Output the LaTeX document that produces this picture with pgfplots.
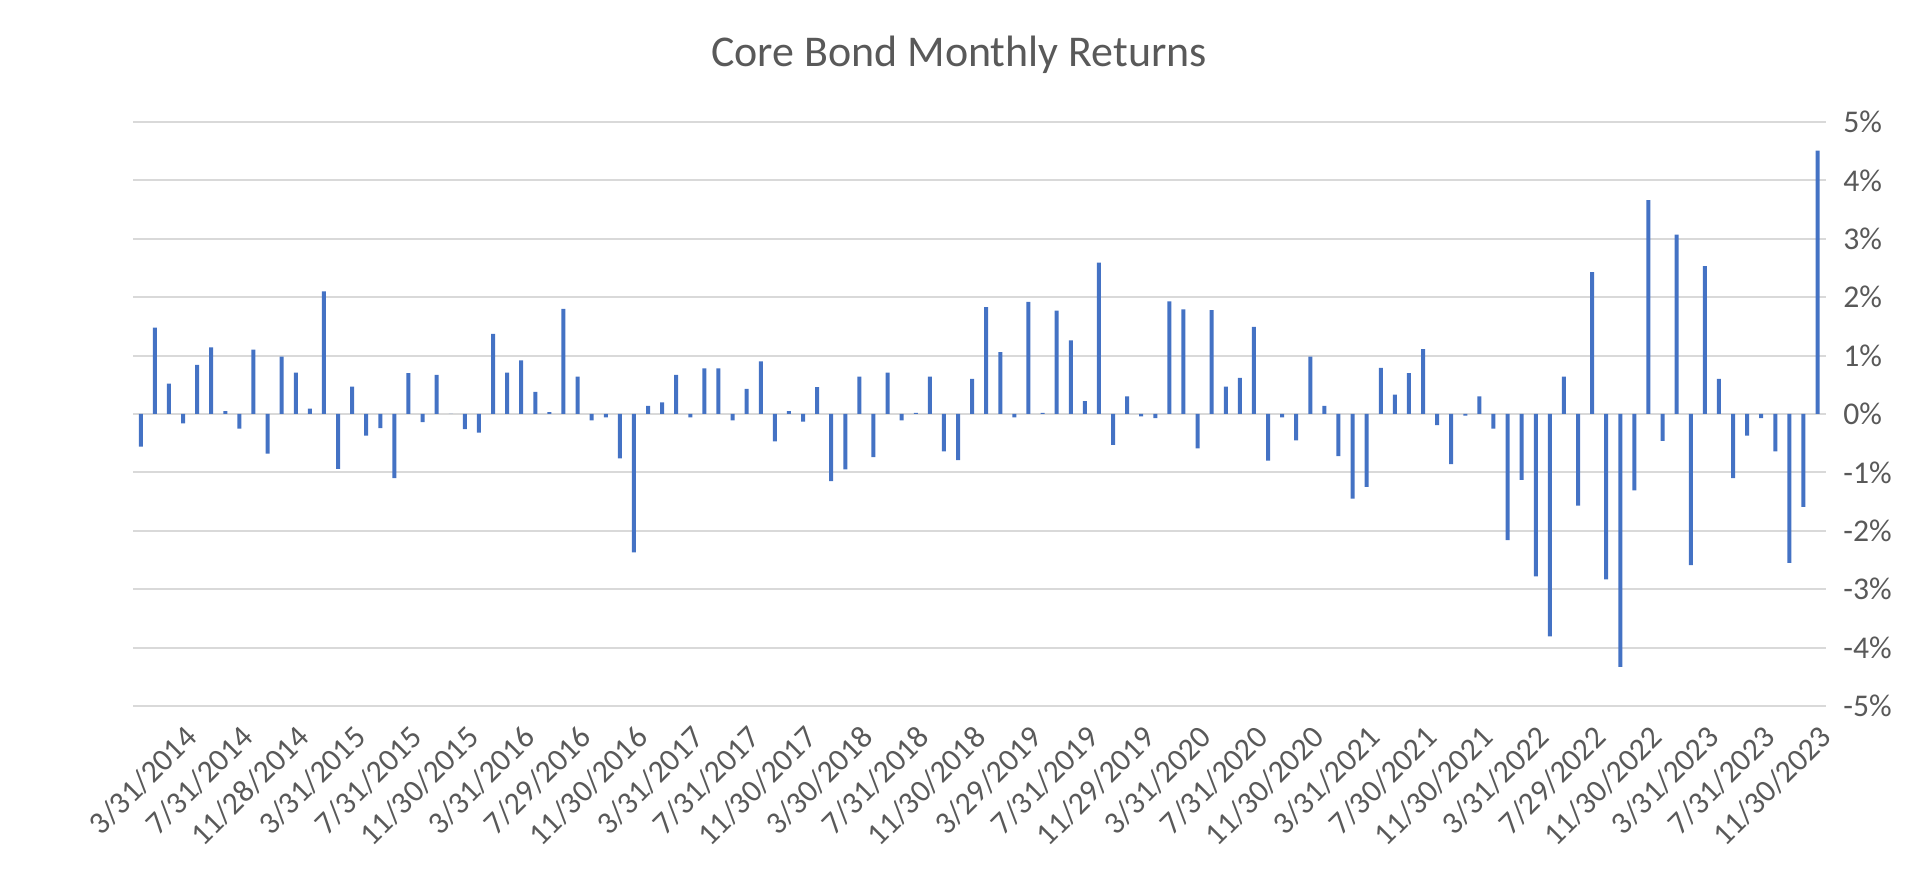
\documentclass[border=0pt]{standalone}
\usepackage{pgfplots}
\pgfplotsset{compat=1.18}
\usepackage{fontspec}
\setmainfont{Carlito}
\definecolor{barc}{HTML}{4472C4}
\definecolor{gridc}{HTML}{D9D9D9}
\definecolor{txt}{HTML}{595959}
\begin{document}
\begin{tikzpicture}[x=1cm,y=1cm]
\path[use as bounding box] (0,0) rectangle (19.2,8.72);
\node[text=txt,font=\fontsize{12.5}{14}\selectfont] at (9.59,8.17) {Core Bond Monthly Returns};
\begin{axis}[at={(1.33cm,1.66cm)},anchor=south west,
  scale only axis, width=16.93cm, height=5.84cm,
  xmin=-0.55, xmax=119.6, ymin=-5, ymax=5,
  axis line style={draw=none},
  ymajorgrids, grid style={gridc,line width=0.6pt},
  ytick={-5,-4,...,5},
  yticklabel pos=right,
  yticklabel={\pgfmathprintnumber{\tick}\%},
  yticklabel style={text=txt,font=\fontsize{9}{10}\selectfont,anchor=west,xshift=0.05cm},
  xtick={3,7,...,119},
  xticklabels={3/31/2014,7/31/2014,11/28/2014,3/31/2015,7/31/2015,11/30/2015,3/31/2016,7/29/2016,11/30/2016,3/31/2017,7/31/2017,11/30/2017,3/30/2018,7/31/2018,11/30/2018,3/29/2019,7/31/2019,11/29/2019,3/31/2020,7/31/2020,11/30/2020,3/31/2021,7/30/2021,11/30/2021,3/31/2022,7/29/2022,11/30/2022,3/31/2023,7/31/2023,11/30/2023},
  xticklabel style={text=txt,font=\fontsize{9}{10}\selectfont,rotate=45,anchor=north east,inner sep=1pt},
  xticklabel shift=0.12cm,
  x tick label as interval=false,
  major tick length=0pt,
  /pgf/number format/assume math mode=true,
  clip=false]
\addplot[ybar, bar width=0.4mm, fill=barc, draw=none] coordinates {
(0,-0.56) (1,1.48) (2,0.52) (3,-0.16) (4,0.84) (5,1.14) (6,0.05) (7,-0.25) (8,1.10) (9,-0.68)
(10,0.98) (11,0.71) (12,0.09) (13,2.10) (14,-0.94) (15,0.47) (16,-0.37) (17,-0.24) (18,-1.10) (19,0.70)
(20,-0.14) (21,0.67) (22,0.0) (23,-0.26) (24,-0.32) (25,1.37) (26,0.71) (27,0.92) (28,0.38) (29,0.03)
(30,1.80) (31,0.64) (32,-0.11) (33,-0.06) (34,-0.76) (35,-2.37) (36,0.14) (37,0.20) (38,0.67) (39,-0.06)
(40,0.78) (41,0.78) (42,-0.11) (43,0.43) (44,0.90) (45,-0.47) (46,0.05) (47,-0.13) (48,0.46) (49,-1.15)
(50,-0.95) (51,0.64) (52,-0.74) (53,0.71) (54,-0.11) (55,0.02) (56,0.64) (57,-0.64) (58,-0.79) (59,0.60)
(60,1.83) (61,1.06) (62,-0.06) (63,1.92) (64,0.02) (65,1.77) (66,1.26) (67,0.22) (68,2.59) (69,-0.53)
(70,0.30) (71,-0.04) (72,-0.07) (73,1.93) (74,1.79) (75,-0.59) (76,1.78) (77,0.47) (78,0.62) (79,1.49)
(80,-0.80) (81,-0.06) (82,-0.45) (83,0.98) (84,0.14) (85,-0.72) (86,-1.45) (87,-1.25) (88,0.79) (89,0.33)
(90,0.70) (91,1.11) (92,-0.19) (93,-0.86) (94,-0.03) (95,0.30) (96,-0.25) (97,-2.16) (98,-1.13) (99,-2.78)
(100,-3.81) (101,0.64) (102,-1.57) (103,2.43) (104,-2.83) (105,-4.33) (106,-1.31) (107,3.66) (108,-0.46) (109,3.07)
(110,-2.59) (111,2.53) (112,0.60) (113,-1.10) (114,-0.37) (115,-0.07) (116,-0.64) (117,-2.55) (118,-1.59) (119,4.51)
};
\end{axis}
\end{tikzpicture}
\end{document}
